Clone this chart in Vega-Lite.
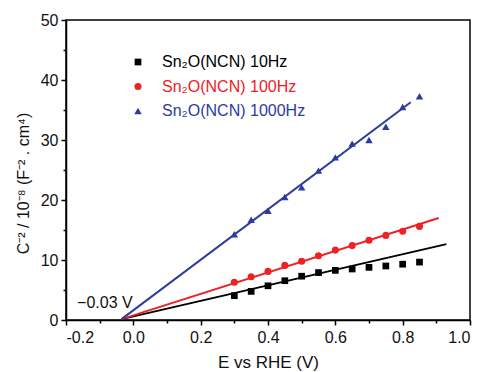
{
  "$schema": "https://vega.github.io/schema/vega-lite/v6.json",
  "width": 404,
  "height": 300,
  "autosize": {"type": "none"},
  "padding": {"left": 66, "top": 20, "right": 12, "bottom": 52},
  "background": "white",
  "config": {
    "font": "Liberation Sans",
    "view": {"stroke": "black", "strokeWidth": 1.5},
    "axis": {
      "domainColor": "black", "domainWidth": 1.5, "tickColor": "black", "tickWidth": 1.5,
      "grid": false, "labelFont": "Liberation Sans", "labelFontSize": 16, "labelColor": "#111",
      "titleFont": "Liberation Sans", "titleFontSize": 17, "titleFontWeight": "normal", "titleColor": "#111"
    }
  },
  "datasets": {
    "pts": [
      {"E": 0.30, "C": 4.05, "series": "Sn₂O(NCN) 10Hz"},
      {"E": 0.35, "C": 4.77, "series": "Sn₂O(NCN) 10Hz"},
      {"E": 0.40, "C": 5.7, "series": "Sn₂O(NCN) 10Hz"},
      {"E": 0.45, "C": 6.55, "series": "Sn₂O(NCN) 10Hz"},
      {"E": 0.50, "C": 7.3, "series": "Sn₂O(NCN) 10Hz"},
      {"E": 0.55, "C": 7.9, "series": "Sn₂O(NCN) 10Hz"},
      {"E": 0.60, "C": 8.27, "series": "Sn₂O(NCN) 10Hz"},
      {"E": 0.65, "C": 8.5, "series": "Sn₂O(NCN) 10Hz"},
      {"E": 0.70, "C": 8.77, "series": "Sn₂O(NCN) 10Hz"},
      {"E": 0.75, "C": 9.0, "series": "Sn₂O(NCN) 10Hz"},
      {"E": 0.80, "C": 9.3, "series": "Sn₂O(NCN) 10Hz"},
      {"E": 0.85, "C": 9.65, "series": "Sn₂O(NCN) 10Hz"},
      {"E": 0.30, "C": 6.3, "series": "Sn₂O(NCN) 100Hz"},
      {"E": 0.35, "C": 7.2, "series": "Sn₂O(NCN) 100Hz"},
      {"E": 0.40, "C": 8.1, "series": "Sn₂O(NCN) 100Hz"},
      {"E": 0.45, "C": 9.1, "series": "Sn₂O(NCN) 100Hz"},
      {"E": 0.50, "C": 9.8, "series": "Sn₂O(NCN) 100Hz"},
      {"E": 0.55, "C": 10.7, "series": "Sn₂O(NCN) 100Hz"},
      {"E": 0.60, "C": 11.65, "series": "Sn₂O(NCN) 100Hz"},
      {"E": 0.65, "C": 12.4, "series": "Sn₂O(NCN) 100Hz"},
      {"E": 0.70, "C": 13.3, "series": "Sn₂O(NCN) 100Hz"},
      {"E": 0.75, "C": 14.1, "series": "Sn₂O(NCN) 100Hz"},
      {"E": 0.80, "C": 14.8, "series": "Sn₂O(NCN) 100Hz"},
      {"E": 0.85, "C": 15.6, "series": "Sn₂O(NCN) 100Hz"},
      {"E": 0.30, "C": 14.3, "series": "Sn₂O(NCN) 1000Hz"},
      {"E": 0.35, "C": 16.7, "series": "Sn₂O(NCN) 1000Hz"},
      {"E": 0.40, "C": 18.2, "series": "Sn₂O(NCN) 1000Hz"},
      {"E": 0.45, "C": 20.5, "series": "Sn₂O(NCN) 1000Hz"},
      {"E": 0.50, "C": 22.1, "series": "Sn₂O(NCN) 1000Hz"},
      {"E": 0.55, "C": 24.9, "series": "Sn₂O(NCN) 1000Hz"},
      {"E": 0.60, "C": 27.1, "series": "Sn₂O(NCN) 1000Hz"},
      {"E": 0.65, "C": 29.4, "series": "Sn₂O(NCN) 1000Hz"},
      {"E": 0.70, "C": 30.0, "series": "Sn₂O(NCN) 1000Hz"},
      {"E": 0.75, "C": 32.2, "series": "Sn₂O(NCN) 1000Hz"},
      {"E": 0.80, "C": 35.5, "series": "Sn₂O(NCN) 1000Hz"},
      {"E": 0.85, "C": 37.3, "series": "Sn₂O(NCN) 1000Hz"}
    ],
    "fits": [
      {"E": -0.035, "C": 0.15, "series": "Sn₂O(NCN) 10Hz"},
      {"E": 0.93, "C": 12.65, "series": "Sn₂O(NCN) 10Hz"},
      {"E": -0.035, "C": 0.15, "series": "Sn₂O(NCN) 100Hz"},
      {"E": 0.907, "C": 17.0, "series": "Sn₂O(NCN) 100Hz"},
      {"E": -0.035, "C": 0.15, "series": "Sn₂O(NCN) 1000Hz"},
      {"E": 0.824, "C": 36.3, "series": "Sn₂O(NCN) 1000Hz"}
    ],
    "ann": [{"E": -0.167, "C": 2.8, "label": "−0.03 V"}],
    "minx": [{"E": -0.1}, {"E": 0.1}, {"E": 0.3}, {"E": 0.5}, {"E": 0.7}, {"E": 0.9}],
    "miny": [{"C": 5}, {"C": 15}, {"C": 25}, {"C": 35}, {"C": 45}]
  },
  "resolve": {"axis": {"x": "independent", "y": "independent"}},
  "layer": [
    {
      "data": {"name": "fits"},
      "mark": {"type": "line", "strokeWidth": 2},
      "encoding": {
        "x": {"field": "E", "type": "quantitative", "scale": {"domain": [-0.2, 1.0], "nice": false, "zero": false}, "axis": null},
        "y": {"field": "C", "type": "quantitative", "scale": {"domain": [0, 50], "nice": false}, "axis": null},
        "color": {"field": "series", "type": "nominal",
          "scale": {"domain": ["Sn₂O(NCN) 10Hz", "Sn₂O(NCN) 100Hz", "Sn₂O(NCN) 1000Hz"], "range": ["#000000", "#ec2226", "#2c3b9e"]}},
        "detail": {"field": "series"}
      }
    },
    {
      "data": {"name": "pts"},
      "mark": {"type": "point", "filled": true, "opacity": 1},
      "encoding": {
        "x": {"field": "E", "type": "quantitative", "title": "E vs RHE (V)",
          "axis": {"orient": "bottom", "values": [-0.2, 0, 0.2, 0.4, 0.6, 0.8, 1.0], "tickSize": 5, "labelPadding": 4, "titlePadding": 9,
            "labelExpr": "replace(format(datum.value, '.1f'), '−', '-')"}},
        "y": {"field": "C", "type": "quantitative", "title": "C⁻² / 10⁻⁸ (F⁻² . cm⁴)",
          "axis": {"orient": "left", "values": [0, 10, 20, 30, 40, 50], "tickSize": 5, "labelPadding": 3, "titlePadding": 9,
            "titleFontSize": 16, "titleY": 163}},
        "color": {"field": "series", "type": "nominal",
          "scale": {"domain": ["Sn₂O(NCN) 10Hz", "Sn₂O(NCN) 100Hz", "Sn₂O(NCN) 1000Hz"], "range": ["#000000", "#ec2226", "#2c3b9e"]},
          "legend": {"title": null, "orient": "none", "legendX": 64, "legendY": 34, "labelFontSize": 16, "labelFont": "Liberation Sans",
            "labelOffset": 16, "rowPadding": 8.5, "symbolStrokeWidth": 0,
            "labelColor": {"expr": "scale('color', datum.value)"}}},
        "shape": {"field": "series", "type": "nominal",
          "scale": {"domain": ["Sn₂O(NCN) 10Hz", "Sn₂O(NCN) 100Hz", "Sn₂O(NCN) 1000Hz"], "range": ["square", "circle", "triangle-up"]}},
        "size": {"field": "series", "type": "nominal",
          "scale": {"domain": ["Sn₂O(NCN) 10Hz", "Sn₂O(NCN) 100Hz", "Sn₂O(NCN) 1000Hz"], "range": [45, 55, 75]}}
      }
    },
    {
      "data": {"name": "ann"},
      "mark": {"type": "text", "align": "left", "baseline": "middle", "fontSize": 16, "font": "Liberation Sans", "color": "#111"},
      "encoding": {
        "x": {"field": "E", "type": "quantitative", "axis": null},
        "y": {"field": "C", "type": "quantitative", "axis": null},
        "text": {"field": "label"}
      }
    },
    {
      "data": {"name": "minx"},
      "mark": {"type": "point", "opacity": 0},
      "encoding": {
        "x": {"field": "E", "type": "quantitative",
          "axis": {"orient": "bottom", "values": [-0.1, 0.1, 0.3, 0.5, 0.7, 0.9], "labels": false, "domain": false, "tickSize": 3, "title": null}}
      }
    },
    {
      "data": {"name": "miny"},
      "mark": {"type": "point", "opacity": 0},
      "encoding": {
        "y": {"field": "C", "type": "quantitative",
          "axis": {"orient": "left", "values": [5, 15, 25, 35, 45], "labels": false, "domain": false, "tickSize": 3, "title": null}}
      }
    }
  ]
}
